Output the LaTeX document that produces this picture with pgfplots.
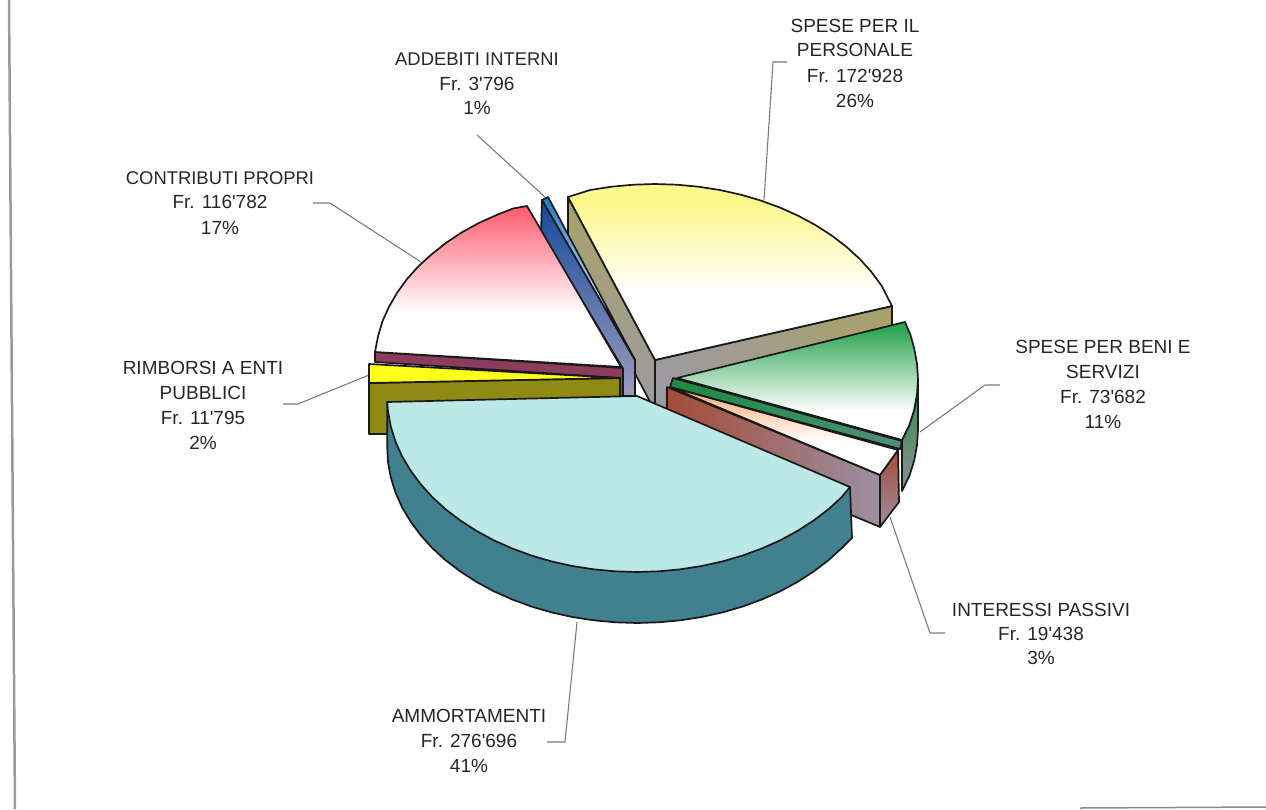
\documentclass[border=0pt]{standalone}
\usepackage{fontspec}
\setmainfont{Liberation Sans}[Ligatures=TeXOff]
\usepackage{pgfplots}
\pgfplotsset{compat=1.18}
\definecolor{cyTop}{HTML}{BCE8E8}
\definecolor{cySide}{HTML}{41808F}
\definecolor{olv}{HTML}{8E8A14}
\definecolor{yel}{HTML}{FFFF1E}
\definecolor{mar}{HTML}{8C3C5C}
\definecolor{redT}{HTML}{FF5A6E}
\definecolor{yelT}{HTML}{FDF88C}
\definecolor{grnT}{HTML}{2FA653}
\definecolor{orT}{HTML}{FFB07C}
\definecolor{wallOl}{HTML}{A9A168}
\definecolor{wallGr}{HTML}{9C9AA0}
\definecolor{bluT}{HTML}{1F78C8}
\definecolor{bluW}{HTML}{154A9C}
\definecolor{bluM}{HTML}{3F66AC}
\definecolor{bluL}{HTML}{9C9CBC}
\definecolor{grnS}{HTML}{1B8A3E}
\definecolor{grnS2}{HTML}{4F8F78}
\definecolor{bri}{HTML}{A54C38}
\definecolor{gryV}{HTML}{9C8FA2}
\definecolor{grnW}{HTML}{2E8B4B}
\definecolor{gryW}{HTML}{8E8E92}
\definecolor{lead}{HTML}{7A7A7A}
\pgfdeclareverticalshading{fadeR}{100bp}{color(0bp)=(white);color(42bp)=(white);color(75bp)=(redT);color(100bp)=(redT)}
\pgfdeclareverticalshading{fadeY}{100bp}{color(0bp)=(white);color(44bp)=(white);color(70bp)=(yelT);color(100bp)=(yelT)}
\pgfdeclareverticalshading{fadeG}{100bp}{color(0bp)=(white);color(37bp)=(white);color(72bp)=(grnT);color(100bp)=(grnT)}
\pgfdeclareverticalshading{fadeO}{100bp}{color(0bp)=(white);color(44bp)=(white);color(72bp)=(orT);color(100bp)=(orT)}
\pgfdeclareverticalshading{fadeB}{100bp}{color(0bp)=(white);color(35bp)=(white);color(75bp)=(bluT);color(100bp)=(bluT)}
\tikzset{
  pc/.style={draw=black!90,line width=1.7pt,line join=round,solid},
  ld/.style={draw=lead,line width=1.1pt,line join=round},
  lab/.style={font=\fontsize{19}{23}\selectfont,anchor=base,text=black!85,inner sep=0pt},
  labn/.style={font=\fontsize{18.4}{23}\selectfont,anchor=base,text=black!85,inner sep=0pt}
}
\begin{document}
\begin{tikzpicture}
\begin{axis}[
  scale only axis,width=1266pt,height=809pt,
  xmin=0,xmax=1266,ymin=0,ymax=809,y dir=reverse,
  hide axis,no markers,clip=true]
% frame remnants of the scan
\addplot[draw=black!40,line width=2.5pt] coordinates {(9,0) (15,809)};
\addplot[draw=black!45,line width=1.5pt] coordinates {(1080,808) (1266,807)};
% leader lines
\addplot[ld] coordinates {(787,62) (773,62) (764,200)};
\addplot[ld] coordinates {(477,135) (545,197)};
\addplot[ld] coordinates {(313,203) (330,203) (421,262)};
\addplot[ld] coordinates {(283,404) (298,404) (369,375)};
\addplot[ld] coordinates {(1000,385) (985,385) (920,432)};
\addplot[ld] coordinates {(945,633) (930,633) (890,517)};
\addplot[ld] coordinates {(547,742) (565,742) (577,622)};
% SPESE PER IL PERSONALE walls and top
\addplot[pc,left color=wallGr,middle color=wallOl,right color=wallOl] coordinates {(655,360) (892,306) (892,357) (655,411)} --cycle;
\addplot[pc,top color=wallOl,bottom color=wallGr] coordinates {(568,197) (655,360) (655,411) (568,248)} --cycle;
\addplot[pc,shading=fadeY,shade] coordinates {(655,360) (892,306) (881.5,285.6) (871.5,272) (859.8,259) (846.5,246.9) (831.8,235.6) (815.7,225.2) (798.5,215.9) (780,207.6) (760.7,200.5) (740.5,194.6) (719.8,190) (698.4,186.7) (676.8,184.7) (655,184) (633.2,184.7) (611.6,186.7) (590.2,190) (568,197)} --cycle;
% ADDEBITI INTERNI
\addplot[pc,top color=bluW,middle color=bluM,bottom color=bluL] coordinates {(542,200) (635,360) (635,396) (622,396) (622,367) (541,232)} --cycle;
\addplot[pc,shading=fadeB,shade] coordinates {(542,200) (548,197) (635,360)} --cycle;
% CONTRIBUTI PROPRI
\addplot[pc,fill=mar] coordinates {(375,352) (623,368) (623,396) (620,396) (620,378) (375,362)} --cycle;
\addplot[pc,shading=fadeR,shade] coordinates {(621,367) (375,352) (378,336.4) (382.4,321.4) (389,306.8) (397.2,292.6) (407,279) (418.7,266) (432,254) (446.4,242.6) (462,232.2) (479.2,222.8) (497.5,214.6) (513,208.5) (527,206)} --cycle;
% RIMBORSI A ENTI PUBBLICI
\addplot[pc,fill=olv] coordinates {(369,383) (620,378) (620,398) (397,434) (369,434)} --cycle;
\addplot[pc,fill=yel] coordinates {(369,364) (620,378) (369,383)} --cycle;
% SPESE PER BENI E SERVIZI
\addplot[pc,top color=grnW,bottom color=gryW] coordinates {(918,379) (917,394.3) (914.2,409.6) (909.5,424.6) (902,440) (902,491) (909.5,475.6) (914.2,460.6) (917,445.3) (918,430)} --cycle;
\addplot[pc,left color=grnS,right color=grnS2] coordinates {(673,378) (902,441) (900,449) (670,387)} --cycle;
\addplot[pc,shading=fadeG,shade] coordinates {(677,378) (905,322) (910.5,335) (914.2,348.4) (917,363.7) (918,379) (917,394.3) (914.2,409.6) (909.5,424.6) (902,440)} --cycle;
% INTERESSI PASSIVI
\addplot[pc,top color=bri,bottom color=gryV] coordinates {(880,475) (898,450) (899,502) (880,527)} --cycle;
\addplot[pc,left color=bri,right color=gryV] coordinates {(667,387) (880,475) (880,527) (667,438)} --cycle;
\addplot[pc,shading=fadeO,shade] coordinates {(670,387) (898,450) (880,475)} --cycle;
% AMMORTAMENTI
\addplot[pc,fill=cySide] coordinates {(850,487) (852,538) (841.8,548) (828.5,560.2) (813.8,571.4) (797.7,581.8) (780.4,591.2) (762,599.4) (742.7,606.5) (722.5,612.4) (701.7,617) (680.4,620.3) (658.8,622.3) (637,623) (615.2,622.3) (593.6,620.3) (572.3,617) (551.5,612.4) (531.3,606.5) (512,599.4) (493.6,591.2) (476.3,581.8) (460.2,571.4) (445.5,560.2) (432.2,548) (420.5,535) (410.5,521.4) (402,507.2) (395.5,492.6) (390.8,477.6) (388,462.3) (387.2,447) (387.2,402)} --cycle;
\addplot[pc,fill=cyTop] coordinates {(637,396) (850,487) (841.8,497) (828.5,509.2) (813.8,520.4) (797.7,530.8) (780.4,540.2) (762,548.4) (742.7,555.5) (722.5,561.4) (701.7,566) (680.4,569.3) (658.8,571.3) (637,572) (615.2,571.3) (593.6,569.3) (572.3,566) (551.5,561.4) (531.3,555.5) (512,548.4) (493.6,540.2) (476.3,530.8) (460.2,520.4) (445.5,509.2) (432.2,497) (420.5,484) (410.5,470.4) (402,456.2) (395.5,441.6) (390.8,426.6) (388,411.3) (387.2,402)} --cycle;
% labels
\node[lab] at (axis cs:855,32) {SPESE PER IL};
\node[lab] at (axis cs:855,56) {PERSONALE};
\node[lab] at (axis cs:855,82) {Fr. 172'928};
\node[lab] at (axis cs:855,107) {26\%};
\node[labn] at (axis cs:477,65) {ADDEBITI INTERNI};
\node[lab] at (axis cs:477,90) {Fr. 3'796};
\node[lab] at (axis cs:477,114) {1\%};
\node[labn] at (axis cs:220,184) {CONTRIBUTI PROPRI};
\node[lab] at (axis cs:220,208) {Fr. 116'782};
\node[lab] at (axis cs:220,234) {17\%};
\node[lab] at (axis cs:203,374) {RIMBORSI A ENTI};
\node[lab] at (axis cs:203,399) {PUBBLICI};
\node[lab] at (axis cs:203,424) {Fr. 11'795};
\node[lab] at (axis cs:203,449) {2\%};
\node[lab] at (axis cs:1103,353) {SPESE PER BENI E};
\node[lab] at (axis cs:1103,378) {SERVIZI};
\node[lab] at (axis cs:1103,403) {Fr. 73'682};
\node[lab] at (axis cs:1103,428) {11\%};
\node[lab] at (axis cs:1041,616) {INTERESSI PASSIVI};
\node[lab] at (axis cs:1041,640) {Fr. 19'438};
\node[lab] at (axis cs:1041,664) {3\%};
\node[lab] at (axis cs:469,722) {AMMORTAMENTI};
\node[lab] at (axis cs:469,747) {Fr. 276'696};
\node[lab] at (axis cs:469,772) {41\%};
\end{axis}
\pgfresetboundingbox
\path[use as bounding box] (current axis.south west) rectangle (current axis.north east);
\end{tikzpicture}
\end{document}
